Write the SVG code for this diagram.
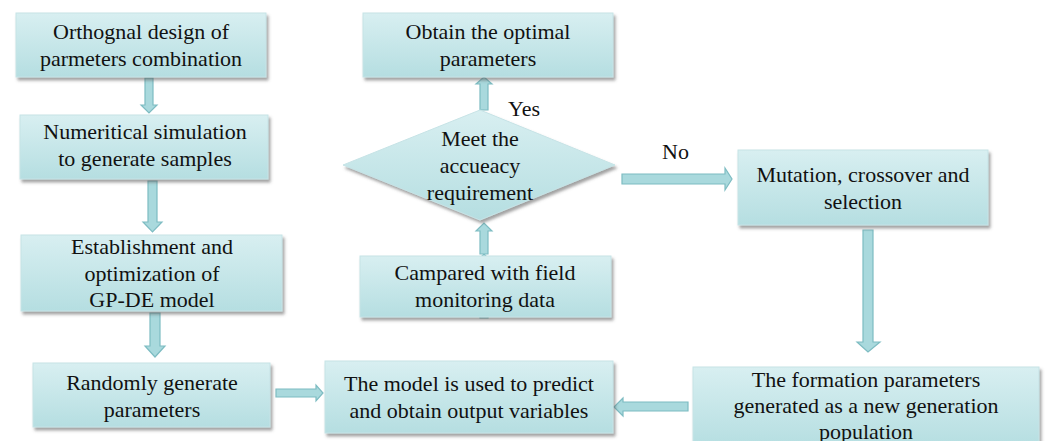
<svg xmlns="http://www.w3.org/2000/svg" width="1045" height="441" viewBox="0 0 1045 441">
<defs>
<linearGradient id="g" x1="0" y1="0" x2="0" y2="1">
<stop offset="0" stop-color="#d8eff1"/>
<stop offset="1" stop-color="#b5dee1"/>
</linearGradient>
<filter id="sh" x="-10%" y="-10%" width="125%" height="135%">
<feDropShadow dx="2" dy="3" stdDeviation="1.8" flood-color="#555" flood-opacity="0.55"/>
</filter>
<style>
.box{fill:url(#g);stroke:#c6e3e6;stroke-width:1;filter:url(#sh)}
.arr{fill:#a9d9dd;stroke:#7dbcc2;stroke-width:1.2}
.t{font-family:"Liberation Serif","Times New Roman",serif;font-size:22px;fill:#111;text-anchor:middle}
.lbl{font-family:"Liberation Serif","Times New Roman",serif;font-size:22px;fill:#111}
</style>
</defs>
<rect width="1045" height="441" fill="#fff"/>
<g id="connectors">
<path class="arr" d="M145,78 H153 V105 H157 L149,113 L141,105 H145 Z"/>
<path class="arr" d="M148,181 H157 V222 H162 L152.5,232 L143,222 H148 Z"/>
<path class="arr" d="M150,313 H160 V346 H165 L155,357 L145,346 H150 Z"/>
<path class="arr" d="M276,389 H316 V385 L323,393 L316,401 V397 H276 Z"/>
<path class="arr" d="M688,402 H623 V398 L614,407 L623,416 V411 H688 Z"/>
<path class="arr" d="M480,318 V262 H476 L484,254 L492,262 H488 V318 Z"/>
<path class="arr" d="M480,254 V231 H476 L484,223 L492,231 H488 V254 Z"/>
<path class="arr" d="M480,110 V84 H476 L484,77 L492,84 H488 V110 Z"/>
<path class="arr" d="M622,174 H725 V168 L732,179 L725,190 V184 H622 Z"/>
<path class="arr" d="M863,230 H873 V342 H880 L868,352 L857,342 H863 Z"/>
</g>
<g id="n1"><rect class="box" x="16" y="13" width="250" height="64"/>
<text class="t" x="141" y="39">Orthognal design of</text><text class="t" x="141" y="66">parmeters combination</text></g>
<g id="n2"><rect class="box" x="20" y="115" width="248" height="64"/>
<text class="t" x="145" y="139">Numeritical simulation</text><text class="t" x="145" y="166">to generate samples</text></g>
<g id="n3"><rect class="box" x="21" y="235" width="261" height="76"/>
<text class="t" x="152" y="254">Establishment and</text><text class="t" x="152" y="281">optimization of</text><text class="t" x="152" y="307">GP-DE model</text></g>
<g id="n4"><rect class="box" x="33" y="363" width="237" height="64"/>
<text class="t" x="152" y="390">Randomly generate</text><text class="t" x="152" y="417">parameters</text></g>
<g id="n5"><rect class="box" x="325" y="361" width="288" height="72"/>
<text class="t" x="469" y="391">The model is used to predict</text><text class="t" x="469" y="418">and obtain output variables</text></g>
<g id="n6"><rect class="box" x="360" y="256" width="251" height="61"/>
<text class="t" x="485" y="280">Campared with field</text><text class="t" x="485" y="307">monitoring data</text></g>
<g id="n7"><polygon class="box" points="480,110 615,165 480,220 343,165"/>
<text class="t" x="480" y="146">Meet the</text><text class="t" x="480" y="173">accueacy</text><text class="t" x="480" y="200">requirement</text></g>
<g id="n8"><rect class="box" x="363" y="13" width="250" height="64"/>
<text class="t" x="488" y="39">Obtain the optimal</text><text class="t" x="488" y="66">parameters</text></g>
<g id="n9"><rect class="box" x="738" y="150" width="250" height="75"/>
<text class="t" x="863" y="182">Mutation, crossover and</text><text class="t" x="863" y="209">selection</text></g>
<g id="n10"><rect class="box" x="693" y="367" width="346" height="80"/>
<text class="t" x="866" y="387">The formation parameters</text><text class="t" x="866" y="413">generated as a new generation</text><text class="t" x="866" y="439">population</text></g>
<text class="lbl" x="508" y="116">Yes</text>
<text class="lbl" x="662" y="159">No</text>
</svg>
